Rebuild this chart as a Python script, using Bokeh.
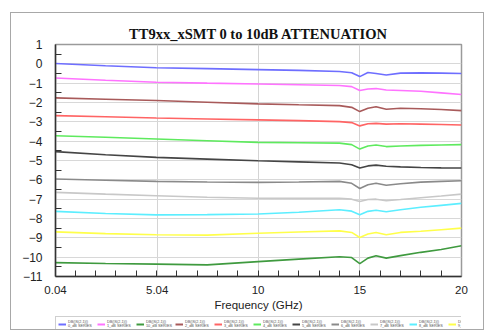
from bokeh.plotting import figure
from bokeh.layouts import column
from bokeh.models import Legend, LegendItem, FixedTicker, Range1d
from bokeh.embed import file_html
from bokeh.resources import INLINE

freq = [0.04, 2.5, 5, 7.5, 10, 12, 14, 14.6, 15, 15.4, 15.8, 16.3, 17, 18, 19, 20]

db0 = [0.02, -0.1, -0.2, -0.25, -0.3, -0.34, -0.4, -0.46, -0.66, -0.45, -0.5, -0.58, -0.48, -0.47, -0.48, -0.5]
db1 = [-0.73, -0.85, -0.95, -1.0, -1.04, -1.08, -1.12, -1.18, -1.38, -1.3, -1.28, -1.35, -1.38, -1.42, -1.5, -1.59]
db2 = [-1.76, -1.83, -1.9, -1.99, -2.07, -2.12, -2.16, -2.25, -2.47, -2.3, -2.22, -2.35, -2.3, -2.32, -2.36, -2.42]
db3 = [-2.68, -2.74, -2.8, -2.85, -2.9, -2.94, -2.99, -3.04, -3.21, -3.1, -3.08, -3.12, -3.1, -3.12, -3.14, -3.16]
db4 = [-3.72, -3.8, -3.89, -3.98, -4.06, -4.08, -4.1, -4.18, -4.41, -4.25, -4.2, -4.28, -4.25, -4.22, -4.2, -4.18]
db5 = [-4.54, -4.7, -4.84, -4.93, -5.01, -5.07, -5.13, -5.22, -5.39, -5.28, -5.24, -5.3, -5.33, -5.36, -5.38, -5.39]
db6 = [-5.96, -6.02, -6.08, -6.11, -6.13, -6.11, -6.08, -6.18, -6.45, -6.25, -6.18, -6.28, -6.2, -6.12, -6.08, -6.05]
db7 = [-6.65, -6.74, -6.82, -6.9, -6.95, -6.96, -6.95, -7.0, -7.12, -7.02, -7.0, -7.08, -7.02, -6.93, -6.84, -6.74]
db8 = [-7.63, -7.74, -7.81, -7.8, -7.77, -7.68, -7.55, -7.62, -7.81, -7.63, -7.57, -7.65, -7.55, -7.42, -7.32, -7.22]
db9 = [-8.69, -8.78, -8.84, -8.86, -8.76, -8.7, -8.64, -8.72, -8.98, -8.8, -8.72, -8.84, -8.72, -8.66, -8.58, -8.5]
db10 = [-10.28, -10.33, -10.36, -10.4, -10.23, -10.1, -9.98, -10.02, -10.33, -10.05, -9.93, -10.05, -9.92, -9.75, -9.6, -9.41]

series_names = ["0", "1", "2", "3", "4", "5", "6", "7", "8", "9", "10"]
series_values = [db0, db1, db2, db3, db4, db5, db6, db7, db8, db9, db10]
series_colors = ["#6e6eff", "#ff73ff", "#a85a5a", "#ff6464", "#5eea5e", "#454545",
                 "#8a8a8a", "#c8c8c8", "#5ceeff", "#ffff4a", "#3f9a3f"]

x_labels = [0.04, 5.04, 10, 15, 20]
x_minor = list(range(1, 20))
x_grid = [5.04, 10, 15]
y_labels = list(range(-11, 2))
y_minor = [v + 0.5 for v in range(-11, 1)]

p = figure(width=472, height=303, output_backend="svg", toolbar_location=None,
           x_range=Range1d(0.04, 20), y_range=Range1d(-11, 1),
           min_border_left=44, min_border_right=22, min_border_top=31, min_border_bottom=40,
           title="TT9xx_xSMT 0 to 10dB ATTENUATION")
p.background_fill_color = "white"
p.border_fill_color = "white"
p.outline_line_color = "#9a9a9a"
p.outline_line_width = 1.5

p.title.text_font = "Liberation Serif"
p.title.text_font_style = "bold"
p.title.text_font_size = "14.5px"
p.title.align = "center"
p.title.text_color = "#111111"
p.title.standoff = 6

for name, vals, col in zip(series_names, series_values, series_colors):
    p.line(freq, vals, line_color=col, line_width=1.6)

p.xaxis.ticker = FixedTicker(ticks=x_labels, minor_ticks=x_minor)
p.xaxis.major_label_overrides = {0.04: "0.04", 5.04: "5.04", 10: "10", 15: "15", 20: "20"}
p.yaxis.ticker = FixedTicker(ticks=y_labels, minor_ticks=y_minor)
p.xaxis.axis_label = "Frequency (GHz)"

for ax in (p.xaxis[0], p.yaxis[0]):
    ax.major_tick_in = 0
    ax.major_tick_out = 0
    ax.minor_tick_in = 6
    ax.minor_tick_out = 0
    ax.minor_tick_line_color = "#333333"
    ax.axis_line_color = "#333333"
    ax.axis_line_width = 1.5
    ax.major_label_text_font = "Liberation Sans"
    ax.major_label_text_font_size = "11.5px"
    ax.major_label_text_color = "#222222"
    ax.axis_label_text_font = "Liberation Sans"
    ax.axis_label_text_font_size = "11.5px"
    ax.axis_label_text_font_style = "normal"
    ax.axis_label_text_color = "#222222"
p.yaxis.major_label_text_font_size = "12px"
p.xaxis.major_label_standoff = 9
p.xaxis.axis_label_standoff = 2
p.yaxis.major_label_standoff = 13

p.xgrid.ticker = FixedTicker(ticks=x_grid)
p.xgrid.grid_line_color = "#d4d4d4"
p.ygrid.ticker = FixedTicker(ticks=y_labels)
p.ygrid.grid_line_color = "#d8d8d8"

# legend strip: its own small canvas; the series are drawn there out of view
q = figure(width=472, height=13, output_backend="svg", toolbar_location=None,
           x_range=Range1d(100, 101), y_range=Range1d(100, 101),
           x_axis_location=None, y_axis_location=None,
           min_border_left=0, min_border_right=0, min_border_top=0, min_border_bottom=0)
q.xgrid.visible = False
q.ygrid.visible = False
q.outline_line_color = None
q.background_fill_color = "white"
q.border_fill_color = "white"

legend_renderers = {}
for name, vals, col in zip(series_names, series_values, series_colors):
    legend_renderers[name] = q.line(freq, vals, line_color=col, line_width=2)

items = [LegendItem(label="DB(|S(2,1)|)\n%s_dB SERIES" % name, renderers=[legend_renderers[name]])
         for name in sorted(series_names)]
leg = Legend(items=items, orientation="horizontal", location="top_left", ncols=11, nrows=1,
             glyph_width=8, glyph_height=4, label_standoff=2, label_width=26,
             label_height=9, spacing=3, padding=2, margin=0,
             label_text_font="Liberation Sans", label_text_font_size="3.8px",
             label_text_line_height=1.1,
             label_text_color="#555555",
             border_line_color="#a0a0a0", border_line_width=1.5,
             background_fill_color="white", background_fill_alpha=1.0)
q.add_layout(leg, "center")

layout = column(p, q, spacing=0)
layout.styles = {"border": "1px solid #a8a8a8", "margin-left": "10px", "margin-top": "12px"}

open("out.html", "w").write(file_html(layout, INLINE))
